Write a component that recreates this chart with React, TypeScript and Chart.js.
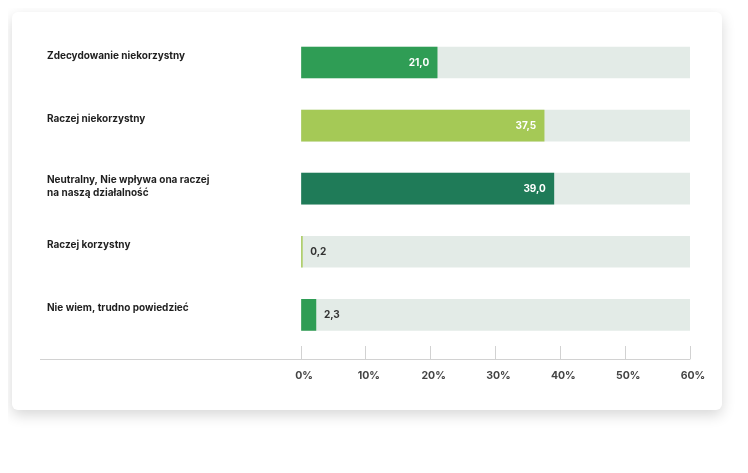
import React, { useEffect, useRef } from "react";
import { Chart, registerables } from "chart.js";

Chart.register(...registerables);

const categories: (string | string[])[] = [
  "Zdecydowanie niekorzystny",
  "Raczej niekorzystny",
  ["Neutralny, Nie wpływa ona raczej", "na naszą działalność"],
  "Raczej korzystny",
  "Nie wiem, trudno powiedzieć",
];
const values = [21.0, 37.5, 39.0, 0.2, 2.3];
const trackValues = [60, 60, 60, 60, 60];
const barColors = ["#2f9d55", "#a5c956", "#1f7b58", "#a5c956", "#2f9d55"];
const trackColor = "#e3ebe7";
const xMin = 0;
const xMax = 60;
const xStep = 10;

const FONT = "Inter, 'Noto Sans', sans-serif";

const fmt = (v: number) => v.toFixed(1).replace(".", ",");

const labelsPlugin = {
  id: "customLabels",
  afterDatasetsDraw(chart: any) {
    const ctx = chart.ctx;
    const yScale = chart.scales.y;
    const xScale = chart.scales.x;
    const area = chart.chartArea;
    ctx.save();
    // baseline
    ctx.strokeStyle = "#d2d2d2";
    ctx.lineWidth = 1;
    const by = Math.round(area.bottom + 13) + 0.5;
    ctx.beginPath();
    ctx.moveTo(28, by);
    ctx.lineTo(xScale.getPixelForValue(xMax), by);
    ctx.stroke();

    // category labels
    ctx.fillStyle = "#1f1f1f";
    ctx.font = `700 10px ${FONT}`;
    ctx.textAlign = "left";
    ctx.textBaseline = "middle";
    chart.data.labels.forEach((lab: any, i: number) => {
      const y = yScale.getPixelForValue(i);
      const lines = Array.isArray(lab) ? lab : [lab];
      const start = y - 7 - (lines.length - 1) * 2;
      lines.forEach((ln: string, k: number) => {
        ctx.fillText(ln, 35, start + k * 13);
      });
    });

    // value labels
    const meta = chart.getDatasetMeta(0);
    ctx.font = `700 10px ${FONT}`;
    meta.data.forEach((el: any, i: number) => {
      const v = chart.data.datasets[0].data[i];
      if (v >= 10) {
        ctx.fillStyle = "#ffffff";
        ctx.textAlign = "right";
        ctx.fillText(fmt(v), el.x - 8, el.y);
      } else {
        ctx.fillStyle = "#333333";
        ctx.textAlign = "left";
        ctx.fillText(fmt(v), el.x + 8, el.y);
      }
    });
    ctx.restore();
  },
};

export default function App() {
  const ref = useRef<HTMLCanvasElement | null>(null);
  useEffect(() => {
    if (!ref.current) return;
    const chart = new Chart(ref.current, {
      type: "bar",
      data: {
        labels: categories as any,
        datasets: [
          {
            data: values,
            backgroundColor: barColors,
            barThickness: 31,
            grouped: false,
            order: 0,
          },
          {
            data: trackValues,
            backgroundColor: trackColor,
            barThickness: 31,
            grouped: false,
            order: 1,
          },
        ],
      },
      options: {
        animation: false,
        responsive: true,
        maintainAspectRatio: false,
        indexAxis: "y",
        layout: { padding: { left: 289, right: 32, top: 19, bottom: 18 } },
        plugins: { legend: { display: false }, tooltip: { enabled: false } },
        scales: {
          y: { type: "category", display: false },
          x: {
            type: "linear",
            min: xMin,
            max: xMax,
            ticks: {
              stepSize: xStep,
              callback: (v: any) => `${v}%`,
              font: { family: FONT, size: 10.5, weight: "bold" },
              color: "#444444",
              padding: 10,
              labelOffset: 3,
            },
            grid: {
              drawOnChartArea: false,
              drawTicks: true,
              tickLength: 13,
              color: "#d2d2d2",
            },
            border: { display: false },
          },
        },
      },
      plugins: [labelsPlugin],
    });
    return () => chart.destroy();
  }, []);

  return (
    <div style={{ padding: "4px 0 0 4px", height: 453, boxSizing: "content-box" }}>
      <div
        style={{
          width: 710,
          height: 398,
          background: "#ffffff",
          borderRadius: 6,
          boxShadow: "0 5px 14px rgba(0,0,0,0.16)",
          overflow: "hidden",
        }}
      >
        <div style={{ position: "relative", width: 710, height: 398 }}>
          <canvas ref={ref} />
        </div>
      </div>
    </div>
  );
}
